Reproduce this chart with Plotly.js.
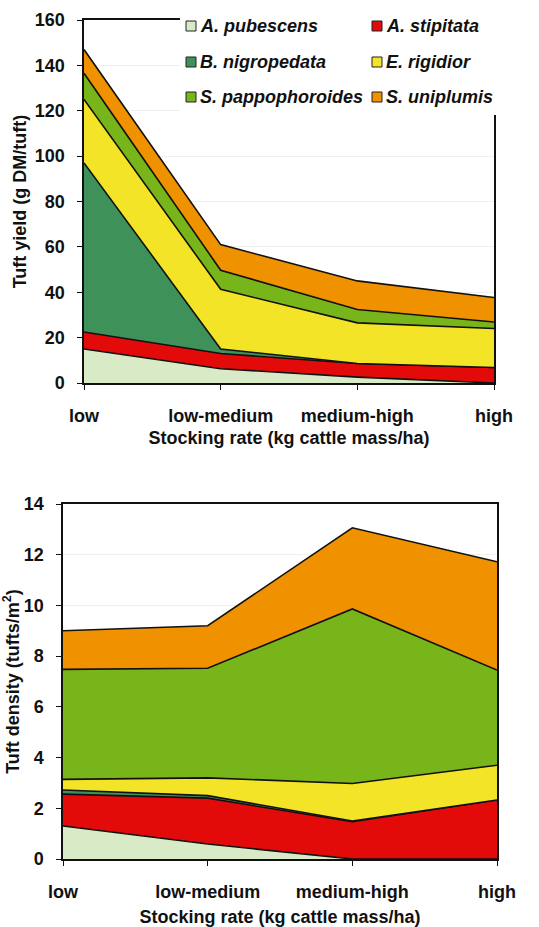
<!DOCTYPE html>
<html><head><meta charset="utf-8">
<script src="https://cdn.plot.ly/plotly-3.0.1.min.js"></script>
<style>html,body{margin:0;padding:0;background:#fff}#chart{width:539px;height:927px}</style>
</head><body><div id="chart"></div>
<script>
// ---- data ----
const stockingRates = ['low', 'low-medium', 'medium-high', 'high'];
const species = ['A. pubescens', 'A. stipitata', 'B. nigropedata', 'E. rigidior', 'S. pappophoroides', 'S. uniplumis'];
const speciesColors = ['#d8eac6', '#e30a0a', '#3f915a', '#f4e428', '#78b51a', '#f09100'];

// Tuft yield (g DM/tuft), per species (stacked)
const yieldPubescens      = [15.0, 6.3, 2.6, 0.0];
const yieldStipitata      = [7.5, 6.7, 6.0, 6.8];
const yieldNigropedata    = [74.5, 2.0, 0.0, 0.0];
const yieldRigidior       = [28.0, 26.3, 17.9, 17.2];
const yieldPappophoroides = [11.5, 8.4, 5.9, 2.9];
const yieldUniplumis      = [10.5, 11.3, 12.6, 10.8];

// Tuft density (tufts/m2), per species (stacked)
const densPubescens      = [1.3, 0.59, 0.0, 0.0];
const densStipitata      = [1.26, 1.81, 1.47, 2.33];
const densNigropedata    = [0.16, 0.1, 0.03, 0.0];
const densRigidior       = [0.42, 0.7, 1.48, 1.37];
const densPappophoroides = [4.34, 4.32, 6.88, 3.75];
const densUniplumis      = [1.52, 1.68, 3.2, 4.27];

const yTicksYield = [0, 20, 40, 60, 80, 100, 120, 140, 160];
const yTicksDens = [0, 2, 4, 6, 8, 10, 12, 14];

// ---- build ----
const yieldSeries = [yieldPubescens, yieldStipitata, yieldNigropedata, yieldRigidior, yieldPappophoroides, yieldUniplumis];
const densSeries = [densPubescens, densStipitata, densNigropedata, densRigidior, densPappophoroides, densUniplumis];

const traces = [];
yieldSeries.forEach((vals, i) => traces.push({
  type: 'scatter', mode: 'lines', x: stockingRates, y: vals, name: species[i],
  stackgroup: 'yield', xaxis: 'x', yaxis: 'y',
  line: {color: '#111', width: 1.6}, fillcolor: speciesColors[i], showlegend: false, hoverinfo: 'x+y+name'
}));
densSeries.forEach((vals, i) => traces.push({
  type: 'scatter', mode: 'lines', x: stockingRates, y: vals, name: species[i],
  stackgroup: 'dens', xaxis: 'x2', yaxis: 'y2',
  line: {color: '#111', width: 1.6}, fillcolor: speciesColors[i], showlegend: false, hoverinfo: 'x+y+name'
}));

const W = 539, H = 927;
const px = v => v / W, py = v => 1 - v / H;
const font = {family: 'Liberation Sans, Arial, sans-serif', size: 18, color: '#111', weight: 700};
const legendFont = {family: 'Liberation Sans, Arial, sans-serif', size: 18, color: '#111', weight: 700, style: 'italic'};

const axisCommon = {
  showline: true, linecolor: '#111', linewidth: 1.6, mirror: true,
  ticks: 'outside', ticklen: 5, tickcolor: '#111', tickwidth: 1,
  tickfont: font, zeroline: false, fixedrange: true
};

// legend built from species list
const annotations = [];
const shapes = [];
// white panel behind legend (hides part of the frame as in the original)
shapes.push({type: 'rect', xref: 'paper', yref: 'paper', x0: px(180), x1: 1, y0: py(115), y1: 1,
  fillcolor: '#fff', line: {width: 0}, layer: 'above'});
const colX = [186, 372], rowY = [26, 62, 97];
species.forEach((s, i) => {
  const cx = colX[i % 2], cy = rowY[Math.floor(i / 2)];
  shapes.push({type: 'rect', xref: 'paper', yref: 'paper', x0: px(cx), x1: px(cx + 10), y0: py(cy + 5), y1: py(cy - 5),
    fillcolor: speciesColors[i], line: {color: '#222', width: 1}, layer: 'above'});
  annotations.push({xref: 'paper', yref: 'paper', x: px(cx + 12), y: py(cy), xanchor: 'left', yanchor: 'middle',
    showarrow: false, text: s, font: legendFont});
});

const layout = {
  width: W, height: H, autosize: false,
  margin: {l: 0, r: 0, t: 0, b: 0},
  paper_bgcolor: '#fff', plot_bgcolor: '#fff',
  font: font, showlegend: false,
  xaxis: Object.assign({}, axisCommon, {
    domain: [px(84), px(494)], anchor: 'y', type: 'category', range: [0, 3],
    showgrid: false, ticklabelstandoff: 11,
    title: {text: 'Stocking rate (kg cattle mass/ha)', font: font, standoff: 6}
  }),
  yaxis: Object.assign({}, axisCommon, {
    domain: [1 - 383 / H, 1 - 20 / H], anchor: 'x', range: [0, 160],
    tickvals: yTicksYield, showgrid: true, gridcolor: '#efefef', gridwidth: 1, ticklabelstandoff: 9,
    title: {text: 'Tuft yield (g DM/tuft)', font: font, standoff: 3}
  }),
  xaxis2: Object.assign({}, axisCommon, {
    domain: [px(63), px(497)], anchor: 'y2', type: 'category', range: [0, 3],
    showgrid: false, ticklabelstandoff: 11,
    title: {text: 'Stocking rate (kg cattle mass/ha)', font: font, standoff: 9}
  }),
  yaxis2: Object.assign({}, axisCommon, {
    domain: [1 - 859 / H, 1 - 504 / H], anchor: 'x2', range: [0, 14],
    tickvals: yTicksDens, showgrid: true, gridcolor: '#efefef', gridwidth: 1, ticklabelstandoff: 9,
    title: {text: 'Tuft density (tufts/m<sup>2</sup>)', font: font, standoff: 3}
  }),
  shapes: shapes,
  annotations: annotations
};

Plotly.newPlot('chart', traces, layout, {displayModeBar: false, staticPlot: true});
</script>
</body></html>
